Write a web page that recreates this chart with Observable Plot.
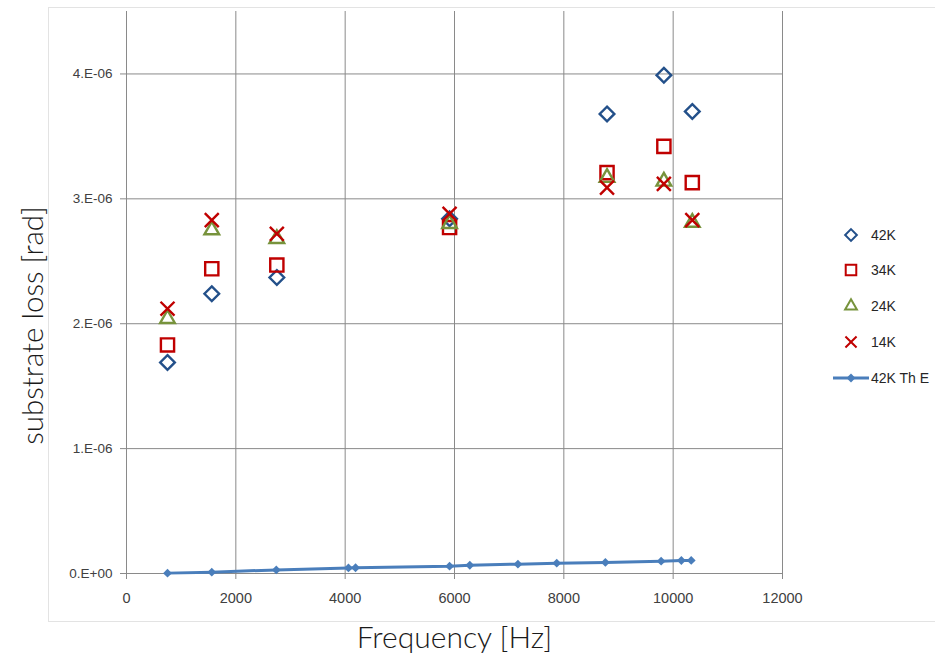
<!DOCTYPE html>
<html>
<head>
<meta charset="utf-8">
<script src="https://cdn.jsdelivr.net/npm/d3@7"></script>
<script src="https://cdn.jsdelivr.net/npm/@observablehq/plot@0.6"></script>
<style>
  html, body { margin: 0; padding: 0; background: #fff; }
  #chart { position: relative; width: 935px; height: 657px; overflow: hidden; }
  #frame { position: absolute; left: 48px; top: 7px; width: 900px; height: 615px;
           border: 1px solid #e3e3e3; box-sizing: border-box; pointer-events: none; }
  #chart svg { position: absolute; left: 0; top: 0; }
</style>
</head>
<body>
<div id="chart"><div id="frame"></div></div>
<script>
// Measured substrate loss at each resonance frequency, per temperature
const frequencies = [750, 1560, 2750, 5910, 8790, 9830, 10350];
const loss42K = [1.69e-6, 2.24e-6, 2.37e-6, 2.84e-6, 3.68e-6, 3.99e-6, 3.70e-6];
const loss34K = [1.83e-6, 2.44e-6, 2.47e-6, 2.77e-6, 3.21e-6, 3.42e-6, 3.13e-6];
const loss24K = [2.04e-6, 2.75e-6, 2.68e-6, 2.80e-6, 3.17e-6, 3.14e-6, 2.81e-6];
const loss14K = [2.12e-6, 2.83e-6, 2.72e-6, 2.88e-6, 3.09e-6, 3.12e-6, 2.83e-6];

// Thermoelastic estimate at 42K
const theoryFreq = [750, 1560, 2740, 4060, 4190, 5910, 6280, 7160, 7870, 8760, 9780, 10150, 10330];
const theory42K = [0.003e-6, 0.011e-6, 0.029e-6, 0.045e-6, 0.046e-6, 0.059e-6, 0.066e-6,
                   0.075e-6, 0.083e-6, 0.089e-6, 0.099e-6, 0.104e-6, 0.105e-6];

const seriesNames = ["42K", "34K", "24K", "14K", "42K Th E"];
const xTicks = [0, 2000, 4000, 6000, 8000, 10000, 12000];
const yTicks = [0, 1e-6, 2e-6, 3e-6, 4e-6];
const yTickLabels = ["0.E+00", "1.E-06", "2.E-06", "3.E-06", "4.E-06"];
const xTitle = "Frequency [Hz]";
const yTitle = "substrate loss [rad]";

const seriesStyle = [
  {symbol: "diamond2", stroke: "#23508a", r: 6.6},
  {symbol: "square2",  stroke: "#c00000", r: 8.4},
  {symbol: "triangle2", stroke: "#77933c", r: 7.0},
  {symbol: "times",    stroke: "#c00000", r: 6.4}
];
const lineColor = "#4a7ebb";

const measured = [loss42K, loss34K, loss24K, loss14K].map((vals, i) =>
  frequencies.map((f, j) => ({series: seriesNames[i], f, v: vals[j]})));
const theory = theoryFreq.map((f, j) => ({series: seriesNames[4], f, v: theory42K[j]}));

const gridColor = "#8a8a8a";
const textColor = "#404040";
const tickFont = "'Liberation Sans', Arial, sans-serif";
const titleFont = "Lato, 'Open Sans', sans-serif";

const plot = Plot.plot({
  width: 935,
  height: 657,
  marginLeft: 126,
  marginRight: 153,
  marginTop: 11,
  marginBottom: 84,
  style: {fontFamily: tickFont, fontSize: "13px", background: "transparent"},
  x: {domain: [0, 12000]},
  y: {domain: [0, 4.5e-6]},
  marks: [
    Plot.gridX(xTicks.slice(1), {stroke: gridColor, strokeOpacity: 1, strokeWidth: 1}),
    Plot.gridY(yTicks.slice(1), {stroke: gridColor, strokeOpacity: 1, strokeWidth: 1}),
    Plot.ruleX([0], {stroke: gridColor, strokeWidth: 1}),
    Plot.ruleY([0], {stroke: gridColor, strokeWidth: 1}),
    // tick marks only; labels are drawn as text marks below
    Plot.axisX(xTicks, {tickSize: 6, stroke: gridColor, tickFormat: () => "", label: null}),
    Plot.axisY(yTicks, {tickSize: 6, stroke: gridColor, tickFormat: () => "", label: null}),
    Plot.text(xTicks, {x: d => d, text: d => String(d), frameAnchor: "bottom", lineAnchor: "middle",
      textAnchor: "middle", dy: 25, fontSize: 14.5, fill: textColor, fontFamily: tickFont}),
    Plot.text(yTicks, {y: d => d, text: d => yTickLabels[yTicks.indexOf(d)], frameAnchor: "left",
      lineAnchor: "middle", textAnchor: "end", dx: -14, fontSize: 13.5, fill: textColor, fontFamily: tickFont}),
    ...measured.map((rows, i) => Plot.dot(rows, {
      x: "f", y: "v", symbol: () => seriesStyle[i].symbol, r: seriesStyle[i].r,
      fill: "none", stroke: seriesStyle[i].stroke, strokeWidth: 2.4
    })),
    Plot.line(theory, {x: "f", y: "v", stroke: lineColor, strokeWidth: 3}),
    Plot.dot(theory, {x: "f", y: "v", symbol: "diamond2", r: 4, fill: lineColor, stroke: "none"}),
    Plot.text([xTitle], {frameAnchor: "bottom", textAnchor: "middle", lineAnchor: "middle",
      dy: 65, fontSize: 30, fill: "#1a1a1a", fontFamily: titleFont, fontWeight: 300}),
    Plot.text([yTitle], {frameAnchor: "left", textAnchor: "middle", lineAnchor: "middle",
      dx: -93, dy: 33, rotate: -90, fontSize: 29.5, fill: "#1a1a1a", fontFamily: titleFont, fontWeight: 300})
  ]
});

document.getElementById("chart").appendChild(plot);

// Legend on the right
const svg = d3.select(plot);
const legend = svg.append("g");
const rowY = [235, 270, 306, 342, 378];
const symX = 851, textX = 871;
const symbolTypes = {diamond2: d3.symbolDiamond2, square2: d3.symbolSquare2, triangle2: d3.symbolTriangle2, times: d3.symbolTimes};
const addLabel = (i) => legend.append("text")
  .attr("x", textX).attr("y", rowY[i]).attr("dy", "0.35em")
  .attr("text-anchor", "start")
  .style("font-family", tickFont).style("font-size", "14px").style("fill", "#262626")
  .text(seriesNames[i]);
seriesStyle.forEach((s, i) => {
  legend.append("path")
    .attr("transform", `translate(${symX},${rowY[i]})`)
    .attr("d", d3.symbol(symbolTypes[s.symbol], Math.PI * (s.r * 0.8) ** 2)())
    .attr("fill", "none").attr("stroke", s.stroke).attr("stroke-width", 2);
  addLabel(i);
});
legend.append("line").attr("x1", 833).attr("x2", 869).attr("y1", rowY[4]).attr("y2", rowY[4])
  .attr("stroke", lineColor).attr("stroke-width", 3);
legend.append("path").attr("transform", `translate(${symX},${rowY[4]})`)
  .attr("d", d3.symbol(d3.symbolDiamond2, Math.PI * 16)()).attr("fill", lineColor);
addLabel(4);
</script>
</body>
</html>
